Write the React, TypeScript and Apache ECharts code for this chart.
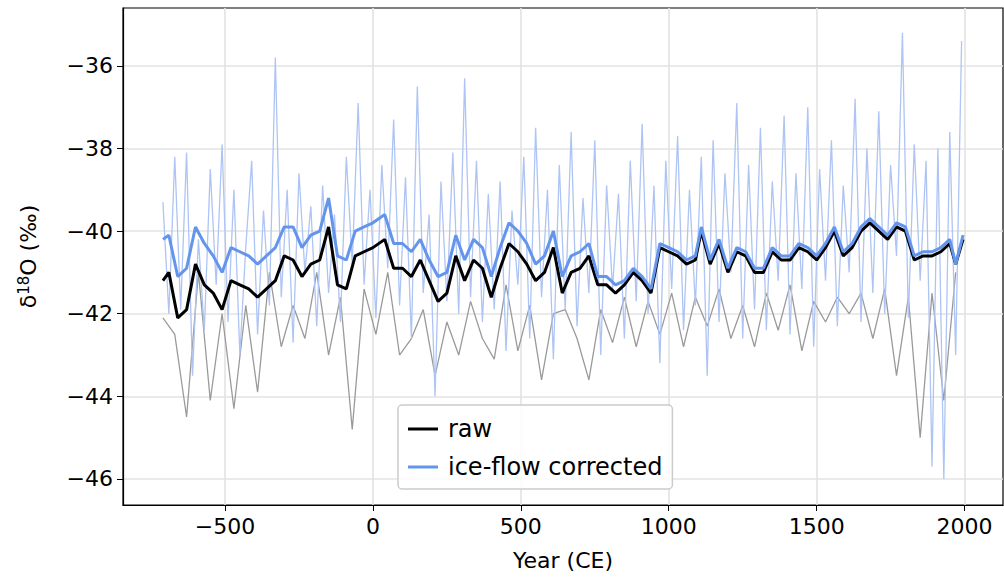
import React, { useEffect, useRef } from "react";
import * as echarts from "echarts";

const noisyStart = -710;
const noisyStep = 20;
const correctedNoisy = [
  -39.3,-42.0,-38.2,-41.9,-38.1,-43.5,-40.2,-42.4,-38.5,-41.3,-37.9,-42.2,-39.0,-43.0,-40.4,-38.3,-42.5,-39.5,-41.8,-35.8,
  -41.6,-39.0,-42.7,-38.6,-41.0,-39.4,-42.3,-38.9,-41.5,-39.6,-42.2,-38.2,-40.8,-36.9,-41.3,-39.0,-42.1,-38.4,-40.9,-37.3,
  -41.8,-38.7,-42.6,-36.5,-41.5,-39.6,-44.0,-38.8,-41.7,-38.1,-42.0,-36.3,-41.6,-38.3,-42.2,-39.1,-41.9,-38.8,-42.9,-39.5,
  -41.3,-38.2,-42.6,-37.5,-41.6,-39.0,-43.1,-38.4,-41.9,-37.6,-42.3,-39.2,-41.5,-37.8,-43.0,-38.9,-41.4,-39.1,-42.6,-38.3,
  -41.7,-37.4,-42.0,-38.9,-43.2,-38.3,-41.4,-37.7,-42.4,-39.0,-41.8,-38.2,-43.5,-37.8,-42.2,-38.6,-41.0,-36.9,-42.6,-38.4,
  -41.9,-37.5,-42.4,-38.8,-41.2,-37.2,-42.5,-38.6,-41.4,-37.0,-42.8,-38.5,-41.2,-37.8,-42.3,-38.9,-41.0,-36.8,-42.2,-38.0,
  -41.5,-37.1,-42.0,-38.4,-40.6,-35.2,-42.1,-37.9,-41.2,-38.3,-45.7,-38.0,-46.0,-37.6,-43.0,-35.4
];
const rawStart = -710;
const rawStep = 40;
const rawNoisy = [
  -42.1,-42.5,-44.5,-41.0,-44.1,-42.0,-44.3,-41.8,-43.9,-41.0,-42.8,-41.8,-42.6,-41.0,-43.0,-41.6,-44.8,-41.4,
  -42.5,-41.0,-43.0,-42.6,-41.9,-43.5,-42.2,-43.0,-41.7,-42.6,-43.1,-41.3,-42.9,-41.8,-43.6,-42.0,-41.9,-42.6,
  -43.6,-41.9,-42.7,-41.6,-42.8,-41.7,-42.5,-41.5,-42.8,-41.6,-42.3,-41.4,-42.6,-41.8,-42.8,-41.5,-42.4,-41.3,
  -42.9,-41.7,-42.2,-41.6,-42.0,-41.5,-42.6,-41.4,-43.5,-41.6,-45.0,-41.5,-44.1,-41.0
];
const smoothYears = [-710,-690,-660,-630,-600,-570,-540,-510,-480,-450,-420,-390,-360,-330,-300,-270,-240,-210,-180,-150,-120,-90,-60,-30,0,40,70,100,130,160,190,220,250,280,310,340,370,400,430,460,490,520,550,580,610,640,670,700,730,760,790,820,850,880,910,940,970,1000,1030,1060,1090,1110,1140,1170,1200,1230,1260,1290,1320,1350,1380,1410,1440,1470,1500,1530,1560,1590,1620,1650,1680,1710,1740,1770,1800,1830,1860,1890,1920,1950,1970,1995];
const rawSmooth = [-41.2,-41.0,-42.1,-41.9,-40.8,-41.3,-41.5,-41.9,-41.2,-41.3,-41.4,-41.6,-41.4,-41.2,-40.6,-40.7,-41.1,-40.8,-40.7,-39.9,-41.3,-41.4,-40.6,-40.5,-40.4,-40.2,-40.9,-40.9,-41.1,-40.7,-41.2,-41.7,-41.5,-40.6,-41.2,-40.7,-40.9,-41.6,-40.9,-40.3,-40.5,-40.8,-41.2,-41.0,-40.4,-41.5,-41.0,-40.9,-40.6,-41.3,-41.3,-41.5,-41.3,-41.0,-41.2,-41.5,-40.4,-40.5,-40.6,-40.8,-40.7,-40.0,-40.8,-40.3,-41.0,-40.5,-40.6,-41.0,-41.0,-40.5,-40.7,-40.7,-40.4,-40.5,-40.7,-40.4,-40.0,-40.6,-40.4,-40.0,-39.8,-40.0,-40.2,-39.9,-40.0,-40.7,-40.6,-40.6,-40.5,-40.3,-40.8,-40.2];
const correctedSmooth = [-40.2,-40.1,-41.1,-40.9,-39.9,-40.3,-40.6,-41.0,-40.4,-40.5,-40.6,-40.8,-40.6,-40.4,-39.9,-39.9,-40.4,-40.1,-40.0,-39.2,-40.6,-40.7,-40.0,-39.9,-39.8,-39.6,-40.3,-40.3,-40.5,-40.2,-40.7,-41.1,-41.0,-40.1,-40.7,-40.2,-40.4,-41.1,-40.4,-39.8,-40.0,-40.3,-40.8,-40.6,-40.0,-41.1,-40.6,-40.5,-40.3,-41.1,-41.1,-41.3,-41.2,-40.9,-41.1,-41.4,-40.3,-40.4,-40.5,-40.7,-40.6,-39.9,-40.7,-40.2,-40.9,-40.4,-40.5,-40.9,-40.9,-40.4,-40.6,-40.6,-40.3,-40.4,-40.6,-40.3,-39.9,-40.5,-40.3,-39.9,-39.7,-39.9,-40.1,-39.8,-39.9,-40.6,-40.5,-40.5,-40.4,-40.2,-40.8,-40.1];
const xTicks = [-500, 0, 500, 1000, 1500, 2000];
const yTicks = [-46, -44, -42, -40, -38, -36];

const F = "DejaVu Sans";
const LEG = "path://M0,0H10V1H0Z";

export default function App() {
  const ref = useRef<HTMLDivElement>(null);
  useEffect(() => {
    document.body.style.margin = "0";
    const chart = echarts.init(ref.current!, null, { renderer: "svg" });
    const gl = [
      ...xTicks.map((t) => [{ coord: [t, -46.63] }, { coord: [t, -34.6] }]),
      ...yTicks.map((t) => [{ coord: [-845, t] }, { coord: [2130, t] }]),
    ];
    const fmt = (v: number) => String(v).replace("-", "\u2212");
    chart.setOption({
      animation: false,
      grid: { left: 123, right: 1, top: 8, bottom: 81, show: true, borderColor: "#000", borderWidth: 1.2 },
      xAxis: {
        type: "value", min: -845, max: 2130,
        name: "Year (CE)", nameLocation: "middle", nameGap: 44,
        nameTextStyle: { fontFamily: F, fontSize: 22, color: "#000" },
        axisLine: { show: true, onZero: false, lineStyle: { color: "#000", width: 1.2 } },
        axisTick: { show: true, length: 6, customValues: xTicks, lineStyle: { color: "#000" } },
        axisLabel: { customValues: xTicks, fontFamily: F, fontSize: 22, color: "#000", margin: 10, formatter: fmt },
        splitLine: { show: false },
      },
      yAxis: {
        type: "value", min: -46.63, max: -34.6,
        name: "{a|δ}{s|18}{a|O (‰)}", nameLocation: "middle", nameGap: 82,
        nameTextStyle: { rich: { a: { fontFamily: F, fontSize: 22, color: "#000" }, s: { fontFamily: F, fontSize: 15, color: "#000", verticalAlign: "top", padding: [0, 0, 10, 0] } } },
        axisLine: { show: true, onZero: false, lineStyle: { color: "#000", width: 1.2 } },
        axisTick: { show: true, length: 6, customValues: yTicks, lineStyle: { color: "#000" } },
        axisLabel: { customValues: yTicks, fontFamily: F, fontSize: 22, color: "#000", margin: 10, formatter: fmt },
        splitLine: { show: false },
      },
      legend: {
        data: [{ name: "raw", icon: LEG }, { name: "ice-flow corrected", icon: LEG }], orient: "vertical", left: 398, top: 405,
        itemWidth: 40, itemHeight: 3, itemGap: 14, padding: [12, 10, 10, 10],
        borderColor: "#ccc", borderWidth: 1.5, borderRadius: 4, backgroundColor: "rgba(255,255,255,0.85)",
        textStyle: { fontFamily: F, fontSize: 24, color: "#000" },
      },
      series: [
        {
          type: "line", name: "rawNoisy", showSymbol: false, data: rawNoisy.map((v, i) => [rawStart + i * rawStep, v]), lineStyle: { color: "#9a9a9a", width: 1.3 }, z: 1,
          markLine: { symbol: "none", silent: true, label: { show: false }, lineStyle: { color: "#e3e3e3", type: "solid", width: 1.6 }, data: gl, z: 0 },
        },
        { type: "line", name: "corrNoisy", showSymbol: false, data: correctedNoisy.map((v, i) => [noisyStart + i * noisyStep, v]), lineStyle: { color: "#aec4f4", width: 1.3 }, z: 2 },
        { type: "line", name: "raw", showSymbol: false, symbol: "none", data: smoothYears.map((y, i) => [y, rawSmooth[i]]), lineStyle: { color: "#000", width: 3 }, itemStyle: { color: "#000" }, z: 3 },
        { type: "line", name: "ice-flow corrected", showSymbol: false, symbol: "none", data: smoothYears.map((y, i) => [y, correctedSmooth[i]]), lineStyle: { color: "#6495ed", width: 3 }, itemStyle: { color: "#6495ed" }, z: 4 },
      ],
    });
    return () => chart.dispose();
  }, []);
  return <div ref={ref} style={{ width: 1004, height: 586 }} />;
}
